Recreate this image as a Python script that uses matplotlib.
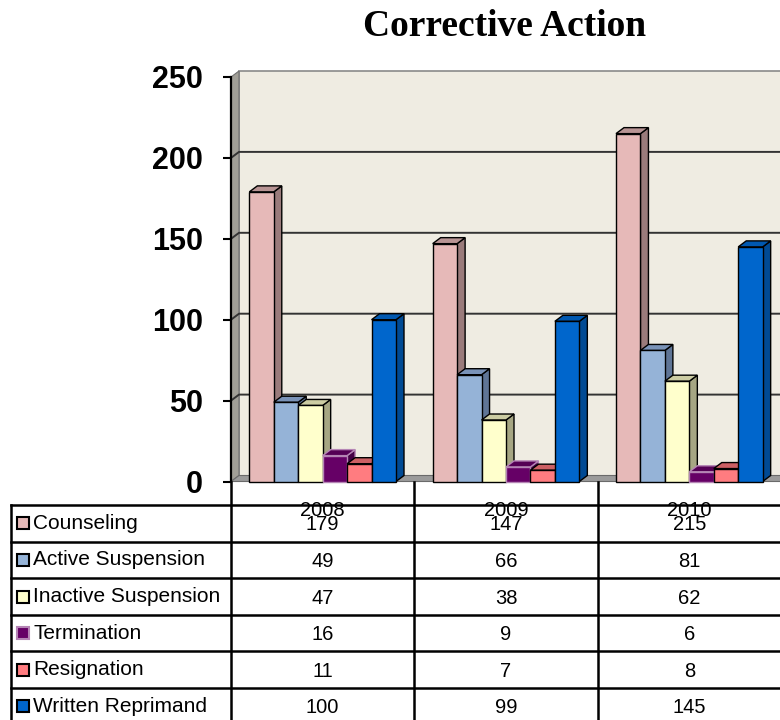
import matplotlib
matplotlib.use("Agg")
import matplotlib.pyplot as plt
from matplotlib.patches import Rectangle, Polygon

plt.rcParams['font.family'] = ['Liberation Sans', 'DejaVu Sans']

years = ["2008", "2009", "2010"]
series_names = ["Counseling", "Active Suspension", "Inactive Suspension",
                "Termination", "Resignation", "Written Reprimand"]
counseling = [179, 147, 215]
active_suspension = [49, 66, 81]
inactive_suspension = [47, 38, 62]
termination = [16, 9, 6]
resignation = [11, 7, 8]
written_reprimand = [100, 99, 145]
y_ticks = [0, 50, 100, 150, 200, 250]

values = [counseling, active_suspension, inactive_suspension,
          termination, resignation, written_reprimand]

# colours: front face, right side, top, outline
front = ["#E6B9B8", "#95B3D7", "#FFFFCC", "#660066", "#FF7C80", "#0066CC"]
side = ["#9A7B7B", "#5F7596", "#A6A683", "#440044", "#B85458", "#004A94"]
top = ["#B89494", "#7A93B8", "#CCCCA3", "#550055", "#CC6064", "#0058B0"]
edge = ["black", "black", "black", "#B585B5", "black", "black"]

W, H = 780, 720
fig = plt.figure(figsize=(W / 100, H / 100), dpi=100)

# plot area in pixels
ax_left, ax_right = 231, 781
y0_px, ytop_px = 481.5, 77
ax = fig.add_axes([ax_left / W, 1 - y0_px / H,
                   (ax_right - ax_left) / W, (y0_px - ytop_px) / H])
ax.set_xlim(-0.5, 2.5)
ax.set_ylim(0, 250)
px_x = (ax_right - ax_left) / 3
px_y = (y0_px - ytop_px) / 250
dx = 8 / px_x   # 3d depth
dy = 6 / px_y
x_min, x_max = -0.5, 2.5

# walls and floor
ax.add_patch(Rectangle((x_min + dx, dy), x_max - x_min, 250, fc="#EFECE2",
                       ec="#8a8a8a", lw=1.2, zorder=0, clip_on=False))
ax.add_patch(Polygon([(x_min, 0), (x_min + dx, dy), (x_min + dx, 250 + dy), (x_min, 250)],
                     closed=True, fc="#A19F97", ec="#707070", lw=0.8, zorder=0.2, clip_on=False))
ax.add_patch(Polygon([(x_min, 0), (x_max, 0), (x_max + dx, dy), (x_min + dx, dy)],
                     closed=True, fc="#9B9B9B", ec="#6a6a6a", lw=0.8, zorder=0.2, clip_on=False))

# gridlines on back and left wall
for t in y_ticks[1:-1]:
    ax.plot([x_min, x_min + dx, x_max + dx], [t, t + dy, t + dy], color="#333333",
            lw=1.4, zorder=0.5, clip_on=False)

# bars
n = len(series_names)
w = 0.8 / n
z = 2
for i in range(len(years)):
    for j in range(n):
        v = values[j][i]
        x0 = i - 0.4 + j * w
        ax.add_patch(Polygon([(x0 + w, 0), (x0 + w + dx, dy), (x0 + w + dx, v + dy), (x0 + w, v)],
                             closed=True, fc=side[j], ec=edge[j], lw=1.0, zorder=z, clip_on=False))
        ax.add_patch(Polygon([(x0, v), (x0 + dx, v + dy), (x0 + w + dx, v + dy), (x0 + w, v)],
                             closed=True, fc=top[j], ec=edge[j], lw=1.0, zorder=z, clip_on=False))
        ax.add_patch(Rectangle((x0, 0), w, v, fc=front[j], ec=edge[j], lw=1.0,
                               zorder=z + 0.5, clip_on=False))
        z += 1

for s in ["top", "right", "bottom"]:
    ax.spines[s].set_visible(False)
ax.spines["left"].set_linewidth(1.6)
ax.spines["left"].set_zorder(50)
ax.set_xticks([])
ax.set_yticks(y_ticks)
ax.set_yticklabels([str(t) for t in y_ticks], fontsize=22, fontweight="bold")
ax.tick_params(axis="y", length=6, width=1.5, pad=14, direction="out")
ax.patch.set_visible(False)

fig.text(505 / W, 1 - 27 / H, "Corrective Action", ha="center", va="center",
         fontsize=27, fontweight="bold", family="Liberation Serif")

# data table below the chart, drawn in pixel coordinates
tax = fig.add_axes([0, 0, 1, 1], zorder=5)
tax.set_xlim(0, W)
tax.set_ylim(H, 0)
tax.axis("off")

label_left = 11
col_w = px_x
head_top = 482
row_top = 505
row_h = 36.6
n_rows = len(series_names)

for r in range(n_rows + 1):
    yy = row_top + r * row_h
    tax.plot([label_left, W], [yy, yy], color="black", lw=1.8)
tax.plot([label_left, label_left], [row_top, H], color="black", lw=1.8)
tax.plot([ax_left, ax_left], [head_top, H], color="black", lw=1.8)
for k in range(1, len(years)):
    xx = ax_left + k * col_w
    tax.plot([xx, xx], [head_top, H], color="black", lw=1.8)

for k, yr in enumerate(years):
    cx = ax_left + (k + 0.5) * col_w
    tax.text(cx, row_top + 5, yr, ha="center", va="center", fontsize=14.5)

for r, name in enumerate(series_names):
    cy = row_top + (r + 0.5) * row_h
    tax.add_patch(Rectangle((16.5, cy - 6), 12, 12, fc=front[r], ec=edge[r], lw=1.5))
    tax.text(33, cy, name, ha="left", va="center", fontsize=15)
    for k in range(len(years)):
        cx = ax_left + (k + 0.5) * col_w
        tax.text(cx, cy + 1.5, str(values[r][k]), ha="center", va="center", fontsize=14.5)

fig.savefig("out.png", dpi=100)
